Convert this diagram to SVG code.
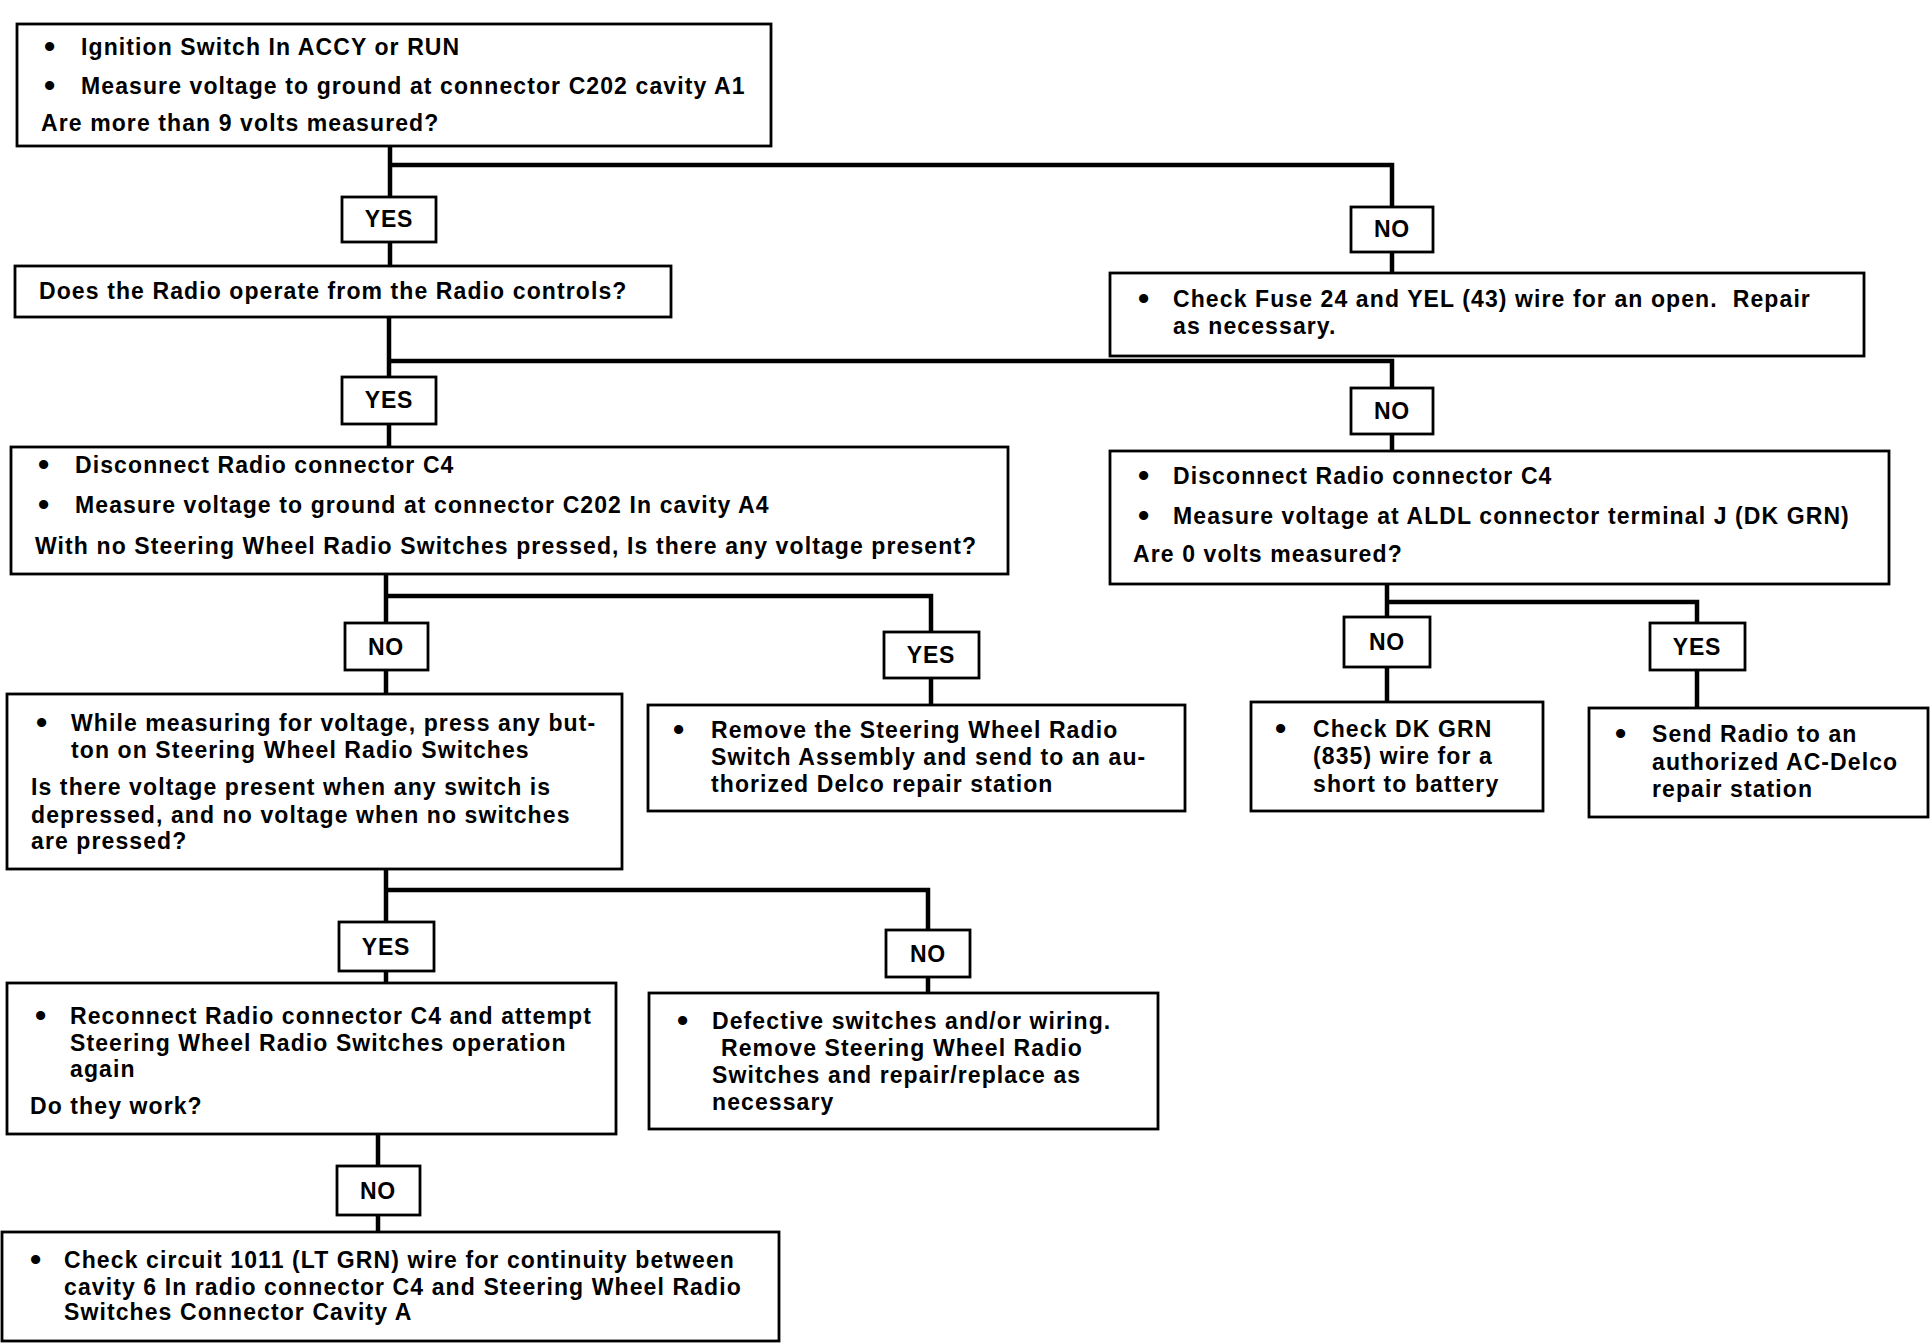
<svg xmlns="http://www.w3.org/2000/svg" width="1932" height="1344" viewBox="0 0 1932 1344">
<style>
.box{fill:#fff;stroke:#000;stroke-width:2.8}
.t{font-family:"Liberation Sans",Arial,Helvetica,sans-serif;font-weight:bold;font-size:23px;letter-spacing:1.1px;fill:#000}
.b{font-family:"Liberation Sans",Arial,Helvetica,sans-serif;font-weight:bold;font-size:32px;fill:#000}
.lbl{text-anchor:middle;letter-spacing:0.8px}
.conn{stroke:#000;stroke-width:4.5;fill:none}
</style>
<rect width="1932" height="1344" fill="#fff"/>
<g id="connectors">
<path class="conn" d="M390,145 V266 M390,165 H1392 V273"/>
<path class="conn" d="M389,317 V447 M389,361 H1392 V451"/>
<path class="conn" d="M386,574 V694 M386,596 H931 V705"/>
<path class="conn" d="M1387,584 V702 M1387,602 H1697 V708"/>
<path class="conn" d="M386,869 V983 M386,890 H928 V993"/>
<path class="conn" d="M378,1134 V1232"/>
</g>
<g id="n1">
<rect class="box" x="17" y="24" width="754" height="122"/>
<text class="b" x="44" y="57">•</text><text class="t" x="81" y="55">Ignition Switch In ACCY or RUN</text>
<text class="b" x="44" y="96">•</text><text class="t" x="81" y="94">Measure voltage to ground at connector C202 cavity A1</text>
<text class="t" x="41" y="131">Are more than 9 volts measured?</text>
</g>
<g id="l1yes"><rect class="box" x="342" y="197" width="94" height="45"/><text class="t lbl" x="389" y="227">YES</text></g>
<g id="l1no"><rect class="box" x="1351" y="207" width="82" height="45"/><text class="t lbl" x="1392" y="237">NO</text></g>
<g id="n2">
<rect class="box" x="15" y="266" width="656" height="51"/>
<text class="t" x="39" y="299">Does the Radio operate from the Radio controls?</text>
</g>
<g id="n3">
<rect class="box" x="1110" y="273" width="754" height="83"/>
<text class="b" x="1138" y="309">•</text><text class="t" x="1173" y="307" style="white-space:pre">Check Fuse 24 and YEL (43) wire for an open.  Repair</text>
<text class="t" x="1173" y="334">as necessary.</text>
</g>
<g id="l2yes"><rect class="box" x="342" y="377" width="94" height="47"/><text class="t lbl" x="389" y="408">YES</text></g>
<g id="l2no"><rect class="box" x="1351" y="388" width="82" height="46"/><text class="t lbl" x="1392" y="419">NO</text></g>
<g id="n4">
<rect class="box" x="11" y="447" width="997" height="127"/>
<text class="b" x="38" y="475">•</text><text class="t" x="75" y="473">Disconnect Radio connector C4</text>
<text class="b" x="38" y="515">•</text><text class="t" x="75" y="513">Measure voltage to ground at connector C202 In cavity A4</text>
<text class="t" x="35" y="554">With no Steering Wheel Radio Switches pressed, Is there any voltage present?</text>
</g>
<g id="n5">
<rect class="box" x="1110" y="451" width="779" height="133"/>
<text class="b" x="1138" y="486">•</text><text class="t" x="1173" y="484">Disconnect Radio connector C4</text>
<text class="b" x="1138" y="526">•</text><text class="t" x="1173" y="524">Measure voltage at ALDL connector terminal J (DK GRN)</text>
<text class="t" x="1133" y="562">Are 0 volts measured?</text>
</g>
<g id="l3no"><rect class="box" x="345" y="623" width="83" height="47"/><text class="t lbl" x="386" y="655">NO</text></g>
<g id="l3yes"><rect class="box" x="884" y="632" width="95" height="46"/><text class="t lbl" x="931" y="663">YES</text></g>
<g id="l4no"><rect class="box" x="1344" y="617" width="86" height="50"/><text class="t lbl" x="1387" y="650">NO</text></g>
<g id="l4yes"><rect class="box" x="1650" y="623" width="95" height="47"/><text class="t lbl" x="1697" y="655">YES</text></g>
<g id="n6">
<rect class="box" x="7" y="694" width="615" height="175"/>
<text class="b" x="36" y="733">•</text><text class="t" x="71" y="731">While measuring for voltage, press any but-</text>
<text class="t" x="71" y="758">ton on Steering Wheel Radio Switches</text>
<text class="t" x="31" y="795">Is there voltage present when any switch is</text>
<text class="t" x="31" y="823">depressed, and no voltage when no switches</text>
<text class="t" x="31" y="849">are pressed?</text>
</g>
<g id="n7">
<rect class="box" x="648" y="705" width="537" height="106"/>
<text class="b" x="673" y="740">•</text><text class="t" x="711" y="738">Remove the Steering Wheel Radio</text>
<text class="t" x="711" y="765">Switch Assembly and send to an au-</text>
<text class="t" x="711" y="792">thorized Delco repair station</text>
</g>
<g id="n8">
<rect class="box" x="1251" y="702" width="292" height="109"/>
<text class="b" x="1275" y="739">•</text><text class="t" x="1313" y="737">Check DK GRN</text>
<text class="t" x="1313" y="764">(835) wire for a</text>
<text class="t" x="1313" y="792">short to battery</text>
</g>
<g id="n9">
<rect class="box" x="1589" y="708" width="339" height="109"/>
<text class="b" x="1615" y="744">•</text><text class="t" x="1652" y="742">Send Radio to an</text>
<text class="t" x="1652" y="770">authorized AC-Delco</text>
<text class="t" x="1652" y="797">repair station</text>
</g>
<g id="l5yes"><rect class="box" x="339" y="922" width="95" height="49"/><text class="t lbl" x="386" y="955">YES</text></g>
<g id="l5no"><rect class="box" x="886" y="930" width="84" height="47"/><text class="t lbl" x="928" y="962">NO</text></g>
<g id="n10">
<rect class="box" x="7" y="983" width="609" height="151"/>
<text class="b" x="35" y="1026">•</text><text class="t" x="70" y="1024">Reconnect Radio connector C4 and attempt</text>
<text class="t" x="70" y="1051">Steering Wheel Radio Switches operation</text>
<text class="t" x="70" y="1077">again</text>
<text class="t" x="30" y="1114">Do they work?</text>
</g>
<g id="n11">
<rect class="box" x="649" y="993" width="509" height="136"/>
<text class="b" x="677" y="1031">•</text><text class="t" x="712" y="1029">Defective switches and/or wiring.</text>
<text class="t" x="721" y="1056">Remove Steering Wheel Radio</text>
<text class="t" x="712" y="1083">Switches and repair/replace as</text>
<text class="t" x="712" y="1110">necessary</text>
</g>
<g id="l6no"><rect class="box" x="337" y="1166" width="83" height="49"/><text class="t lbl" x="378" y="1199">NO</text></g>
<g id="n12">
<rect class="box" x="2" y="1232" width="777" height="109"/>
<text class="b" x="30" y="1270">•</text><text class="t" x="64" y="1268">Check circuit 1011 (LT GRN) wire for continuity between</text>
<text class="t" x="64" y="1295">cavity 6 In radio connector C4 and Steering Wheel Radio</text>
<text class="t" x="64" y="1320">Switches Connector Cavity A</text>
</g>
</svg>
